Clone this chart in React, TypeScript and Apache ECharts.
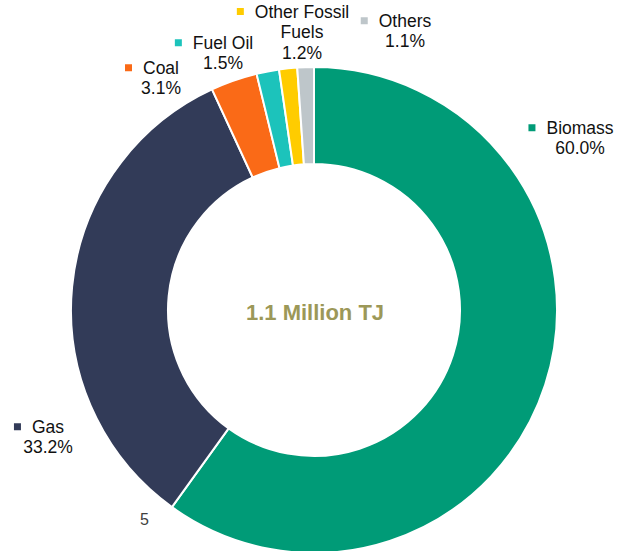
import React, { useEffect, useRef } from "react";
import * as echarts from "echarts";

const categories = ["Biomass", "Gas", "Coal", "Fuel Oil", "Other Fossil Fuels", "Others"];
const nameLines = [["Biomass"], ["Gas"], ["Coal"], ["Fuel Oil"], ["Other Fossil", "Fuels"], ["Others"]];
const shares = [60.0, 33.2, 3.1, 1.5, 1.2, 1.1];
const colors = ["#009B77", "#323B58", "#FA6A17", "#1CC3BB", "#FFCC00", "#BEC6CA"];
const labelPos: [number, number][] = [
  [571, 138],
  [39, 437],
  [152, 78],
  [214, 53],
  [293, 32],
  [396, 31],
];
const centerTitle = "1.1 Million TJ";
const footNote = "5";

const FONT = "'Liberation Sans', Arial, Helvetica, sans-serif";

export default function App() {
  const ref = useRef<HTMLDivElement>(null);
  useEffect(() => {
    if (!ref.current) return;
    const chart = echarts.init(ref.current, null, { renderer: "svg" });
    const rich: any = {
      n: { fontSize: 17.5, lineHeight: 20.5, color: "#111", fontFamily: FONT },
      g: { width: 11, height: 7 },
      sp: { width: 18, height: 7 },
    };
    colors.forEach((c, i) => {
      rich["m" + i] = { width: 7, height: 7, backgroundColor: c, verticalAlign: "middle" };
    });
    chart.setOption({
      animation: false,
      backgroundColor: "#fff",
      graphic: [
        {
          type: "text",
          left: 140,
          top: 511,
          style: { text: footNote, fontSize: 16, fill: "#404040", fontFamily: FONT },
        },
        {
          type: "text",
          x: 315,
          y: 312,
          style: {
            text: centerTitle,
            fontSize: 22,
            fontWeight: "bold",
            fill: "#9C9858",
            fontFamily: FONT,
            align: "center",
            verticalAlign: "middle",
          },
        },
      ],
      series: [
        {
          type: "pie",
          center: [314, 310],
          radius: [146, 243],
          startAngle: 90,
          clockwise: true,
          avoidLabelOverlap: false,
          itemStyle: { borderColor: "#fff", borderWidth: 2 },
          emphasis: { disabled: true },
          labelLine: { show: false },
          label: {
            show: true,
            position: "outside",
            align: "center",
            fontFamily: FONT,
            rich,
            formatter: (p: any) => {
              const i = p.dataIndex;
              const lines = nameLines[i];
              let s = `{m${i}|}{g|}{n|${lines[0]}}`;
              for (let k = 1; k < lines.length; k++) s += `\n{sp|}{n|${lines[k]}}`;
              s += `\n{sp|}{n|${shares[i].toFixed(1)}%}`;
              return s;
            },
          },
          labelLayout: (params: any) => {
            const pos = labelPos[params.dataIndex];
            return { x: pos[0], y: pos[1], align: "center", verticalAlign: "middle" };
          },
          data: categories.map((c, i) => ({
            name: c,
            value: shares[i],
            itemStyle: { color: colors[i] },
          })),
        },
      ],
    });
    return () => chart.dispose();
  }, []);
  return (
    <div
      ref={ref}
      style={{ position: "fixed", left: 0, top: 0, width: 618, height: 551 }}
    />
  );
}
